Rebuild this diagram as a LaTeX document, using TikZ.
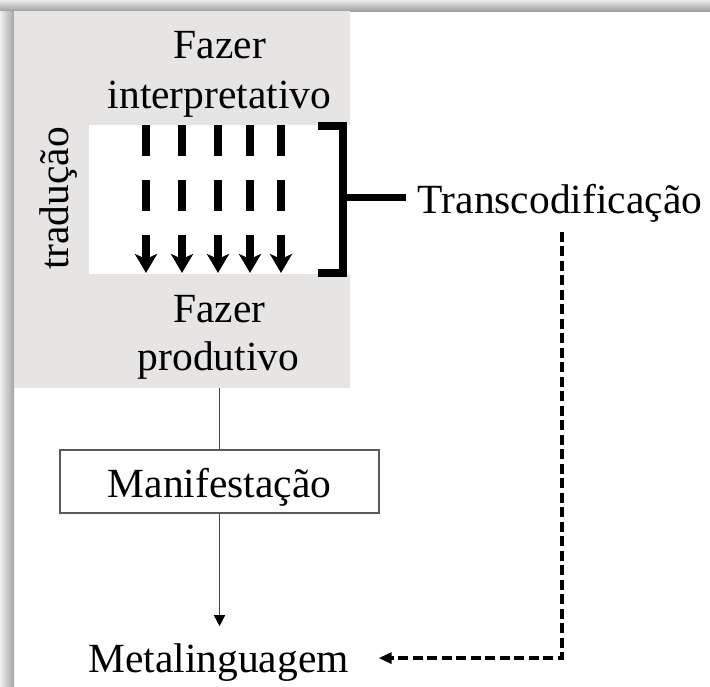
\documentclass[tikz,border=0pt]{standalone}
\usepackage{fontspec}
\setmainfont{Liberation Serif}
\usetikzlibrary{arrows.meta}
\definecolor{boxgrey}{RGB}{231,228,228}
\definecolor{inkgrey}{RGB}{70,70,70}
\definecolor{framegrey}{RGB}{90,90,90}
\begin{document}
\begin{tikzpicture}[x=1pt,y=-1pt,
  lbl/.style={font=\fontsize{41.5pt}{50pt}\selectfont, inner sep=0pt, outer sep=0pt, anchor=base},
  dashbar/.style={line width=7.8pt, black},
  thinline/.style={line width=1.3pt, inkgrey},
  brace/.style={line width=8pt, black, line join=miter},
  transfer/.style={line width=4pt, black, dash pattern=on 10pt off 4.5pt, -{Triangle[length=13pt,width=11pt]}}]
\useasboundingbox (0,0) rectangle (710,686);
\fill[white] (0,0) rectangle (710,686);
% soft frame shadow along the top and left edges
\shade[top color=gray!15, bottom color=gray!75] (0,0) rectangle (710,11);
\shade[left color=gray!12, right color=gray!72] (0,11) rectangle (14,686);

% grey translation panel with its white centre
\node (greybox) [fill=boxgrey, minimum width=336pt, minimum height=377pt, inner sep=0pt, outer sep=0pt] at (182,199.5) {};
\fill[white] (89,125) rectangle (350,274);

\node (fazerA) [lbl] at (220,58) {Fazer};
\node (interp) [lbl] at (219.5,108) {interpretativo};
\node (fazerB) [lbl] at (219.5,322) {Fazer};
\node (produt) [lbl] at (218.5,370) {produtivo};
\node (trad) [lbl, rotate=90] at (68,198.5) {tradução};

% five dashed downward arrows
\foreach \x in {146,182,218,250,281} {
  \draw[dashbar] (\x,125) -- (\x,156);
  \draw[dashbar] (\x,180) -- (\x,211);
  \draw[dashbar, -{Stealth[length=19pt,width=22pt,inset=5pt]}] (\x,235) -- (\x,273);
}

% bracket leading to the transcoding label
\draw[brace] (318,125.5) -- (343,125.5) -- (343,273) -- (318,273);
\coordinate (brk) at (343,197);
\node (trans) [lbl] at (560,213) {Transcodificação};
\draw[line width=7pt, black, shorten >=12pt] (brk) -- (brk -| trans.west);

% manifestation box and metalanguage
\node (manif) [draw=framegrey, line width=1.3pt, minimum width=319pt, minimum height=63pt,
  inner sep=0pt, text height=32pt, text depth=0pt,
  font=\fontsize{41.5pt}{50pt}\selectfont] at (219.5,481.5) {Manifestação};
\node (meta) [lbl] at (218.5,672) {Metalinguagem};

\draw[thinline] (manif.north) -- (manif.north |- greybox.south);
\draw[thinline, -{Triangle[length=11pt,width=11pt,fill=black,color=black]}, shorten >=17pt] (manif.south) -- (manif.south |- meta.north);
\draw[transfer, shorten <=10pt, shorten >=30pt] ([xshift=2pt]trans.south) |- ([yshift=4pt]meta.east);
\end{tikzpicture}
\end{document}
